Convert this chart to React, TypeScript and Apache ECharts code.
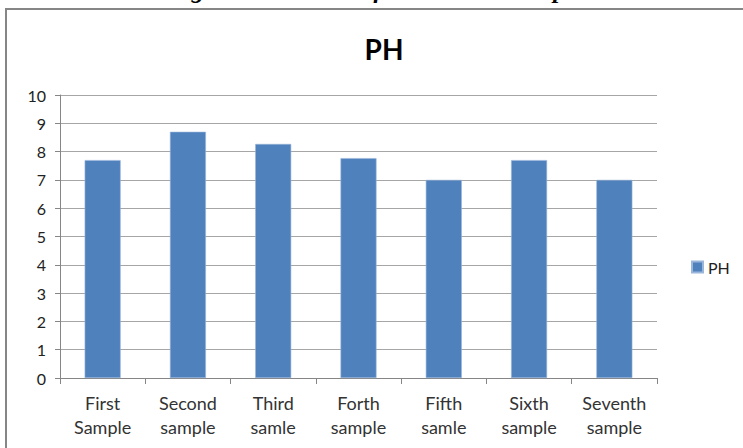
import React, { useEffect, useRef } from "react";
import * as echarts from "echarts";

const categories = [
  "First\nSample",
  "Second\nsample",
  "Third\nsamle",
  "Forth\nsample",
  "Fifth\nsamle",
  "Sixth\nsample",
  "Seventh\nsample",
];
const phValues = [7.7, 8.7, 8.27, 7.77, 7.0, 7.7, 7.0];
const seriesName = "PH";
const chartTitle = "PH";
const captionText = "Figure 4: Total Coliform in each sample";

const FONT = "Lato, 'Open Sans', sans-serif";

export default function App() {
  const ref = useRef<HTMLDivElement>(null);
  useEffect(() => {
    if (!ref.current) return;
    const chart = echarts.init(ref.current, null, { renderer: "svg" });
    chart.setOption({
      animation: false,
      backgroundColor: "#ffffff",
      title: {
        text: chartTitle,
        left: 379,
        top: 30,
        textAlign: "center",
        textStyle: { fontFamily: FONT, fontSize: 28, fontWeight: "bold", color: "#000" },
      },
      legend: {
        data: [seriesName],
        orient: "vertical",
        left: 686,
        top: 254,
        itemWidth: 11,
        itemHeight: 11,
        itemGap: 4,
        textStyle: { fontFamily: FONT, fontSize: 16, color: "#222" },
        icon: "rect",
      },
      grid: { left: 60, right: 86, top: 95, bottom: 70, containLabel: false },
      xAxis: {
        type: "category",
        data: categories,
        axisLine: { lineStyle: { color: "#868686", width: 1 } },
        axisTick: { show: true, length: 6, lineStyle: { color: "#868686" } },
        axisLabel: {
          fontFamily: FONT,
          fontSize: 18,
          color: "#333",
          lineHeight: 24,
          margin: 13,
          interval: 0,
        },
      },
      yAxis: {
        type: "value",
        min: 0,
        max: 10,
        interval: 1,
        axisLine: { show: true, lineStyle: { color: "#868686" } },
        axisTick: { show: true, length: 5, lineStyle: { color: "#868686" } },
        splitLine: { lineStyle: { color: "#a6a6a6", width: 1 } },
        axisLabel: { fontFamily: FONT, fontSize: 16, color: "#222", margin: 14 },
      },
      series: [
        {
          name: seriesName,
          type: "bar",
          data: phValues,
          barWidth: 36,
          itemStyle: { color: "#4f81bd", borderColor: "#9ab6da", borderWidth: 0.6 },
        },
      ],
      graphic: [
        {
          type: "rect",
          shape: { x: 6, y: 9, width: 800, height: 500 },
          style: { fill: "none", stroke: "#868686", lineWidth: 2 },
          silent: true,
        },
        {
          type: "text",
          x: 376,
          y: -23,
          style: {
            text: captionText,
            font: "italic bold 25px 'Liberation Serif', serif",
            fill: "#000",
            align: "center",
            verticalAlign: "top",
          },
          silent: true,
        },
      ],
    });
    return () => chart.dispose();
  }, []);
  return (
    <div
      ref={ref}
      style={{ position: "fixed", left: 0, top: 0, width: 743, height: 448, background: "#fff" }}
    />
  );
}
